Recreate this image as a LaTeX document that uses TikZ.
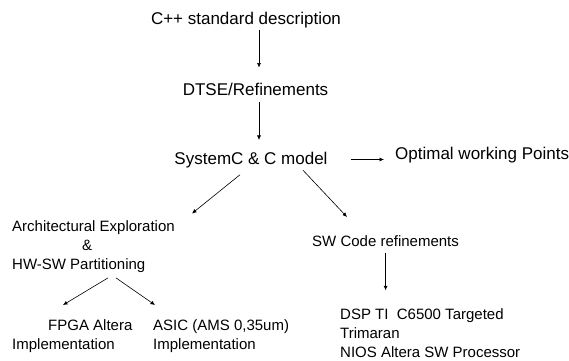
\documentclass[tikz,border=0pt]{standalone}
\usepackage{fontspec}
\setmainfont{Liberation Sans}
\usetikzlibrary{arrows.meta}
\tikzset{%
	stage/.style = {inner sep=0pt, font=\fontsize{17}{20}\selectfont},
	note/.style  = {inner sep=0pt, align=left, font=\fontsize{15}{19}\selectfont},
	arrow/.style = {line width=0.6pt, -{Latex[length=4.5pt,width=4pt]}},
}
\begin{document}
\begin{tikzpicture}[x=1pt,y=-1pt]
	\useasboundingbox (0,0) rectangle (569,360);
	% main flow
	\node [stage, anchor=base] (cpp) at (246,24) {C++ standard description};
	\node [stage, anchor=base] (dtse) at (255.5,95.5) {DTSE/Refinements};
	\node [stage, anchor=base] (sysc) at (251,164) {SystemC \& C model};
	\node [stage, anchor=base west] (opt) at (395,159) {Optimal working Points};
	% hardware branch
	\node [note, anchor=north west] (arch) at (12,220.5) {Architectural Exploration\\\hspace*{70pt}\&\\HW-SW Partitioning};
	\node [note, anchor=north west] (fpga) at (12,319) {\hspace*{36pt}FPGA Altera\\Implementation};
	\node [note, anchor=north west] (asic) at (153,319) {ASIC (AMS 0,35um)\\Implementation};
	% software branch
	\node [note, anchor=north west] (swc) at (312,235) {SW Code refinements};
	\node [note, anchor=north west] (dsp) at (340,308.3) {DSP TI\ \ C6500 Targeted\\Trimaran\\NIOS Altera SW Processor};

	\draw[arrow, shorten <=2pt, shorten >=15.4pt] ([xshift=3.5pt]dtse.north |- cpp.south) -- ([xshift=3.5pt]dtse.north);
	\draw[arrow, shorten <=6pt, shorten >=11.5pt] ([xshift=3.5pt]dtse.south) -- ([xshift=3.5pt]dtse.south |- sysc.north);
	\draw[arrow, shorten <=23pt, shorten >=11pt] ([yshift=4.5pt]sysc.base east) -- ([yshift=4.5pt]sysc.base east -| opt.west);
	\draw[arrow] ([xshift=-11pt,yshift=-7pt]sysc.south) -- ([xshift=17pt,yshift=7pt]arch.north east);
	\draw[arrow] ([xshift=52pt,yshift=-2.5pt]sysc.south) -- ([xshift=35pt,yshift=18pt]swc.north west);
	\draw[arrow, shorten <=7pt, shorten >=18pt] (swc.south) -- (swc.south |- dsp.north);
	\draw[arrow] ([xshift=96pt,yshift=-5pt]arch.south west) -- ([xshift=51pt,yshift=14pt]fpga.north west);
	\draw[arrow] ([xshift=104pt,yshift=-5pt]arch.south west) -- ([xshift=2pt,yshift=14pt]asic.north west);
\end{tikzpicture}
\end{document}
